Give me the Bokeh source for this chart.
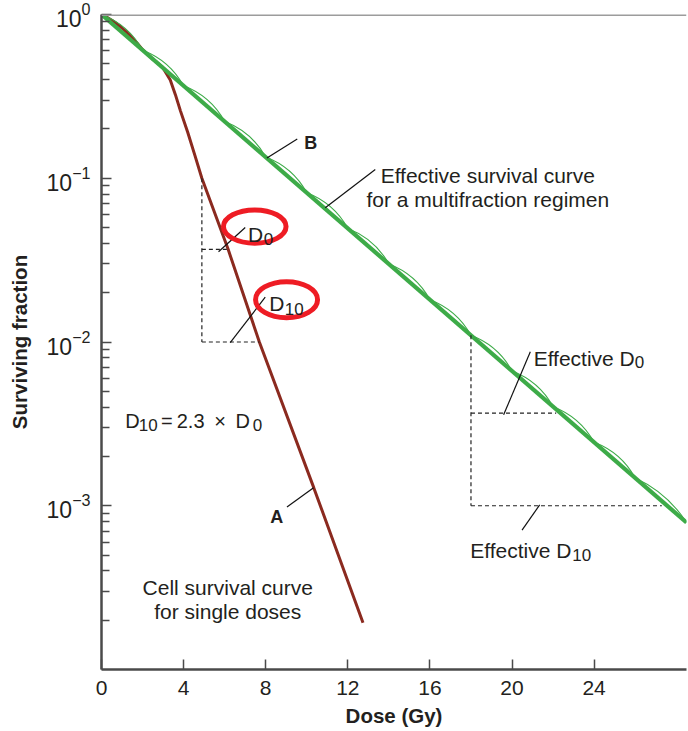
import numpy as np
from bokeh.plotting import figure
from bokeh.models import Label, FixedTicker, Span, LogTickFormatter
from bokeh.embed import file_html
from bokeh.resources import INLINE

# ---------------- data ----------------
# Curve A: cell survival curve for single doses
dose_A = [0.0, 0.25, 0.5, 0.75, 1.0, 1.25, 1.5, 1.75, 2.0, 2.47, 2.96, 3.35, 3.6,
          3.85, 4.2, 4.55, 4.89, 6.17, 7.69, 10.34, 12.74]
surv_A = [1.0, 0.964, 0.923, 0.877, 0.827, 0.774, 0.720, 0.665, 0.610, 0.537, 0.479,
          0.398, 0.324, 0.257, 0.191, 0.138, 0.100, 0.0368, 0.0100, 0.00129, 0.000193]

# Curve B: effective survival curve for a multifraction regimen
dose_B = [0.0, 28.5]
surv_B = [1.0, 0.00079]
fraction_nodes_B = [0, 2, 4, 6, 8, 10, 12, 14, 16, 18, 20, 22, 24, 26, 28.5]

# D0 / D10 constructions (dose where the construction starts, level, D0, D10)
ref_dose_A, ref_level_A, D0_A, D10_A = 4.89, 0.1, 1.28, 2.80
ref_dose_B, ref_level_B, D0_B, D10_B = 18.0, 0.01, 4.15, 9.3

x_ticks = [0, 4, 8, 12, 16, 20, 24]
y_major = [1e-3, 1e-2, 1e-1, 1.0]
y_minor = [m * 10.0 ** e for e in (-4, -3, -2, -1) for m in range(2, 10)]

# ---------------- styling ----------------
GREEN = "#3dab48"
RED_CURVE = "#8b2a1f"
RING = "#ee1c24"
AXIS = "#4a4a4a"
TEXT = "#231f20"
FONT = "Liberation Sans"

W, H = 688, 731
MB_L, MB_R, MB_T, MB_B = 101, 2, 14, 62
X_END = 28.5

p = figure(width=W, height=H, x_range=(0, X_END), y_range=(1e-4, 1.0),
           y_axis_type="log", output_backend="svg", toolbar_location=None,
           min_border_left=MB_L, min_border_right=MB_R,
           min_border_top=MB_T, min_border_bottom=MB_B)
p.outline_line_color = None
p.xgrid.visible = False
p.ygrid.visible = False
p.background_fill_color = "white"
p.border_fill_color = "white"

# pixel scale of this frame (for the scallop geometry)
SX = (W - MB_L - MB_R) / X_END
SY = (H - MB_T - MB_B) / 4.0

# reference-picture pixel -> data (used only to place annotations)
def rx(px):
    return (px - 101.3) / 20.52
def ry(py):
    return 10 ** (-(py - 10.7) / 164.7)

# ---------------- axes ----------------
p.xaxis.ticker = FixedTicker(ticks=x_ticks, minor_ticks=[])
p.xaxis.axis_line_color = AXIS
p.xaxis.axis_line_width = 2.5
p.xaxis.major_tick_in = 10
p.xaxis.major_tick_out = 0
p.xaxis.major_tick_line_color = AXIS
p.xaxis.major_tick_line_width = 1.5
p.xaxis.major_label_text_font = FONT
p.xaxis.major_label_text_font_size = "21px"
p.xaxis.major_label_text_color = TEXT
p.xaxis.major_label_standoff = 11
p.xaxis.axis_label = "Dose (Gy)"
p.xaxis.axis_label_text_font = FONT
p.xaxis.axis_label_text_font_size = "20.5px"
p.xaxis.axis_label_text_font_style = "bold"
p.xaxis.axis_label_text_color = TEXT
p.xaxis.axis_label_standoff = 6

p.yaxis.ticker = FixedTicker(ticks=y_major, minor_ticks=y_minor)
p.yaxis.formatter = LogTickFormatter()
p.yaxis.axis_line_color = AXIS
p.yaxis.axis_line_width = 2.5
p.yaxis.major_tick_in = 10
p.yaxis.major_tick_out = 0
p.yaxis.minor_tick_in = 8
p.yaxis.minor_tick_out = 0
p.yaxis.major_tick_line_color = AXIS
p.yaxis.minor_tick_line_color = AXIS
p.yaxis.major_tick_line_width = 1.5
p.yaxis.minor_tick_line_width = 1.5
p.yaxis.major_label_text_font = FONT
p.yaxis.major_label_text_font_size = "23px"
p.yaxis.major_label_text_color = TEXT
p.yaxis.major_label_standoff = 11
p.yaxis.axis_label = "Surviving fraction"
p.yaxis.axis_label_text_font = FONT
p.yaxis.axis_label_text_font_size = "20.5px"
p.yaxis.axis_label_text_font_style = "bold"
p.yaxis.axis_label_text_color = TEXT
p.yaxis.axis_label_standoff = 13

p.add_layout(Span(location=1.0, dimension="width", line_color="#9c9c9c", line_width=3))

# ---------------- curves ----------------
p.line(dose_A, surv_A, line_color=RED_CURVE, line_width=3)
p.line(dose_B, surv_B, line_color=GREEN, line_width=4.2)

# scallops of the individual fractions
logB = lambda x: np.interp(x, dose_B, np.log10(surv_B))
n = np.array(fraction_nodes_B, dtype=float)
x0, x1 = n[:-1], n[1:]
l0, l1 = logB(x0), logB(x1)
a = (x1 - x0) * SX
b = (l0 - l1) * SY
L = np.hypot(a, b)
h = 10.0
cx = (x0 + x1) / 2 + h * b / L / SX
cy = 10 ** ((l0 + l1) / 2 + h * a / L / SY)
p.quadratic(x0=x0, y0=10 ** l0, x1=x1, y1=10 ** l1, cx=cx, cy=cy,
            line_color=GREEN, line_width=1.1)

# ---------------- D0 / D10 constructions (dashed) ----------------
e = np.e
dash_x0 = [ref_dose_A, ref_dose_A, ref_dose_A,
           ref_dose_B, ref_dose_B, ref_dose_B]
dash_y0 = [ref_level_A, ref_level_A / e, ref_level_A / 10,
           10 ** logB(ref_dose_B), ref_level_B / e, ref_level_B / 10]
dash_x1 = [ref_dose_A, ref_dose_A + D0_A, ref_dose_A + D10_A,
           ref_dose_B, ref_dose_B + D0_B, ref_dose_B + D10_B]
dash_y1 = [ref_level_A / 10, ref_level_A / e, ref_level_A / 10,
           ref_level_B / 10, ref_level_B / e, ref_level_B / 10]
p.segment(dash_x0, dash_y0, dash_x1, dash_y1, line_color="#222222",
          line_width=1.2, line_dash="4 3")

# ---------------- pointer lines ----------------
ptr = [((297, 136), (266.7, 155)),
       ((375, 166.7), (325, 205)),
       ((245, 225), (218.3, 249.3)),
       ((265, 295), (230, 340.7)),
       ((530, 350), (503.3, 413.3)),
       ((539.3, 504), (521.7, 529.3)),
       ((286.7, 506), (313.3, 486.7))]
p.segment([rx(s[0][0]) for s in ptr], [ry(s[0][1]) for s in ptr],
          [rx(s[1][0]) for s in ptr], [ry(s[1][1]) for s in ptr],
          line_color="#111111", line_width=1.2)

# ---------------- red rings ----------------
p.ellipse(x=[rx(254.5), rx(286.3)], y=[ry(224), ry(297.5)],
          width=[62.6, 62], height=[33.3, 36],
          width_units="screen", height_units="screen",
          fill_color=None, line_color=RING, line_width=5)

# ---------------- texts inside the frame ----------------
def add_text(text, px, py, size, bold=False, align="left"):
    p.add_layout(Label(x=rx(px), y=ry(py), text=text, text_font=FONT,
                       text_font_size=f"{size}px",
                       text_font_style="bold" if bold else "normal",
                       text_color=TEXT, text_align=align,
                       text_baseline="alphabetic"))

add_text("B", 304, 140, 18, bold=True)
add_text("A", 270, 516.5, 18, bold=True)
add_text("Effective survival curve", 487.5, 172.5, 21, align="center")
add_text("for a multifraction regimen", 487.5, 197, 21, align="center")
add_text("Effective D", 533.3, 356.5, 21)
add_text("0", 634.5, 360.5, 17)
add_text("Effective D", 470, 550, 21)
add_text("10", 572, 554, 17)
add_text("D", 247.7, 231.7, 21)
add_text("0", 263.5, 236.5, 17)
add_text("D", 269, 301, 21)
add_text("10", 284.5, 306.5, 17)
add_text("D", 125, 420, 20)
add_text("10", 138.5, 424, 17)
add_text("=", 160.7, 420, 20)
add_text("2.3", 176.5, 420, 20)
add_text("\u00d7", 214, 420, 20)
add_text("D", 235.2, 420, 20)
add_text("0", 252.5, 424, 17)
add_text("Cell survival curve", 227.5, 587, 21, align="center")
add_text("for single doses", 227.5, 611.5, 21, align="center")

open("out.html", "w").write(file_html(p, INLINE))
